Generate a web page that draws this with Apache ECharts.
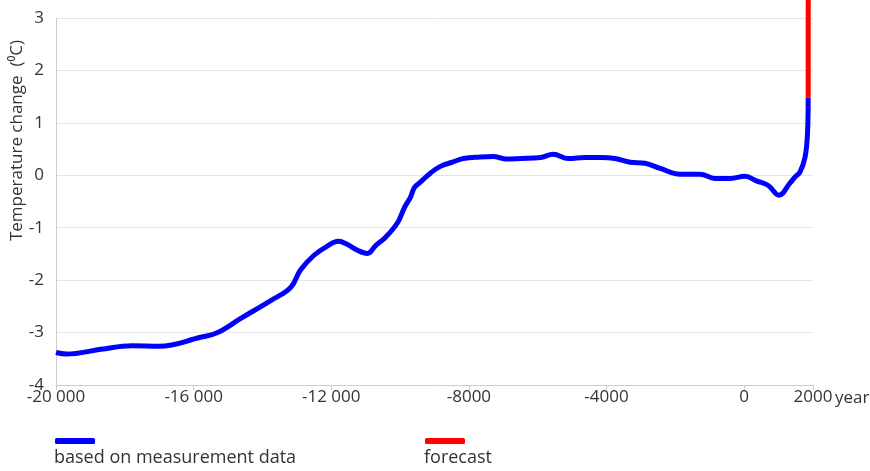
<!DOCTYPE html>
<html><head><meta charset="utf-8">
<script src="https://cdn.jsdelivr.net/npm/echarts@6/dist/echarts.min.js"></script>
<style>html,body{margin:0;padding:0;background:#fff}#c{width:870px;height:471px}</style>
</head><body><div id="c"></div>
<script>
const measuredYears = [-20000,-19700,-18700,-17800,-17000,-15800,-15300,-14630,-13760,-13180,-12900,-12510,-12160,-11790,-11530,-11240,-10950,-10710,-10420,-10070,-9870,-9700,-9580,-9410,-9120,-8830,-8480,-8160,-7670,-7290,-6940,-6500,-5920,-5550,-5110,-4620,-4180,-3750,-3310,-2880,-2440,-1860,-1280,-850,-410,20,370,690,1010,1330,1480,1620,1770,1840,1860];
const measuredTemps = [-3.38,-3.41,-3.32,-3.25,-3.26,-3.09,-3.00,-2.73,-2.39,-2.14,-1.81,-1.53,-1.37,-1.26,-1.32,-1.43,-1.49,-1.34,-1.18,-0.90,-0.61,-0.42,-0.23,-0.13,0.04,0.17,0.25,0.32,0.35,0.36,0.31,0.32,0.34,0.40,0.32,0.34,0.34,0.32,0.25,0.23,0.13,0.02,0.02,-0.06,-0.06,-0.02,-0.11,-0.19,-0.38,-0.15,-0.03,0.06,0.35,0.8,1.48];
const forecastYears = [1860, 1862];
const forecastTemps = [1.48, 4.5];
const xTicks = [-20000,-16000,-12000,-8000,-4000,0,2000];
const xName = 'year';
const yName = 'Temperature change  (⁰C)';
const seriesNames = ['based on measurement data','forecast'];

const font = '"Open Sans", "Noto Sans", sans-serif';
const fmtX = v => {
  const a = Math.abs(v);
  let s = a >= 10000 ? String(Math.floor(a/1000)) + ' ' + String(a%1000).padStart(3,'0') : String(a);
  return (v < 0 ? '-' : '') + s;
};
const chart = echarts.init(document.getElementById('c'));
chart.setOption({
  animation: false,
  grid: {left: 56, right: 57, top: 18, bottom: 86, containLabel: false, outerBoundsMode: 'none'},
  xAxis: {
    type: 'value', min: -20000, max: 2000, interval: 4000,
    name: xName, nameLocation: 'end', nameGap: 22, nameMoveOverlap: false,
    nameTextStyle: {color: '#333', fontSize: 17, fontFamily: font, verticalAlign: 'top', align: 'left', padding: [5, 0, 0, 0]},
    axisLine: {onZero: false, lineStyle: {color: '#ccc'}},
    splitLine: {show: false},
    axisLabel: {color: '#333', fontSize: 17, fontFamily: font, margin: 4, showMaxLabel: true,
      formatter: fmtX, customValues: xTicks},
    axisTick: {show: true, customValues: xTicks, lineStyle: {color: '#ccc'}, length: 5}
  },
  yAxis: {
    type: 'value', min: -4, max: 3, interval: 1,
    name: yName, nameLocation: 'middle', nameGap: 30, nameRotate: 90, nameMoveOverlap: false,
    nameTextStyle: {color: '#333', fontSize: 17, fontFamily: font, padding: [0, 0, 0, 122]},
    axisLine: {show: true, onZero: false, lineStyle: {color: '#ccc'}},
    axisTick: {show: false},
    splitLine: {lineStyle: {color: '#e4e4e4'}},
    axisLabel: {color: '#333', fontSize: 17, fontFamily: font, margin: 12}
  },
  series: [
    {name: seriesNames[0], type: 'line', smooth: 0.4, showSymbol: false, z: 3,
     data: measuredYears.map((x,i)=>[x, measuredTemps[i]]),
     lineStyle: {color: '#0000ff', width: 5}, itemStyle: {color: '#0000ff'}},
    {name: seriesNames[1], type: 'line', showSymbol: false, clip: false, z: 2,
     data: forecastYears.map((x,i)=>[x, forecastTemps[i]]),
     lineStyle: {color: '#ff0000', width: 5}, itemStyle: {color: '#ff0000'}}
  ],
  legend: [
    {data: [seriesNames[0]], left: 55, top: 438, itemWidth: 40, itemHeight: 6, icon: 'roundRect', formatter: () => '', itemGap: 0, padding: 0},
    {data: [seriesNames[1]], left: 425, top: 438, itemWidth: 40, itemHeight: 6, icon: 'roundRect', formatter: () => '', itemGap: 0, padding: 0}
  ],
  graphic: [
    {type: 'text', left: 54, top: 449, style: {text: seriesNames[0], fill: '#333', font: '18px ' + font}},
    {type: 'text', left: 424, top: 449, style: {text: seriesNames[1], fill: '#333', font: '18px ' + font}}
  ]
});
</script></body></html>
